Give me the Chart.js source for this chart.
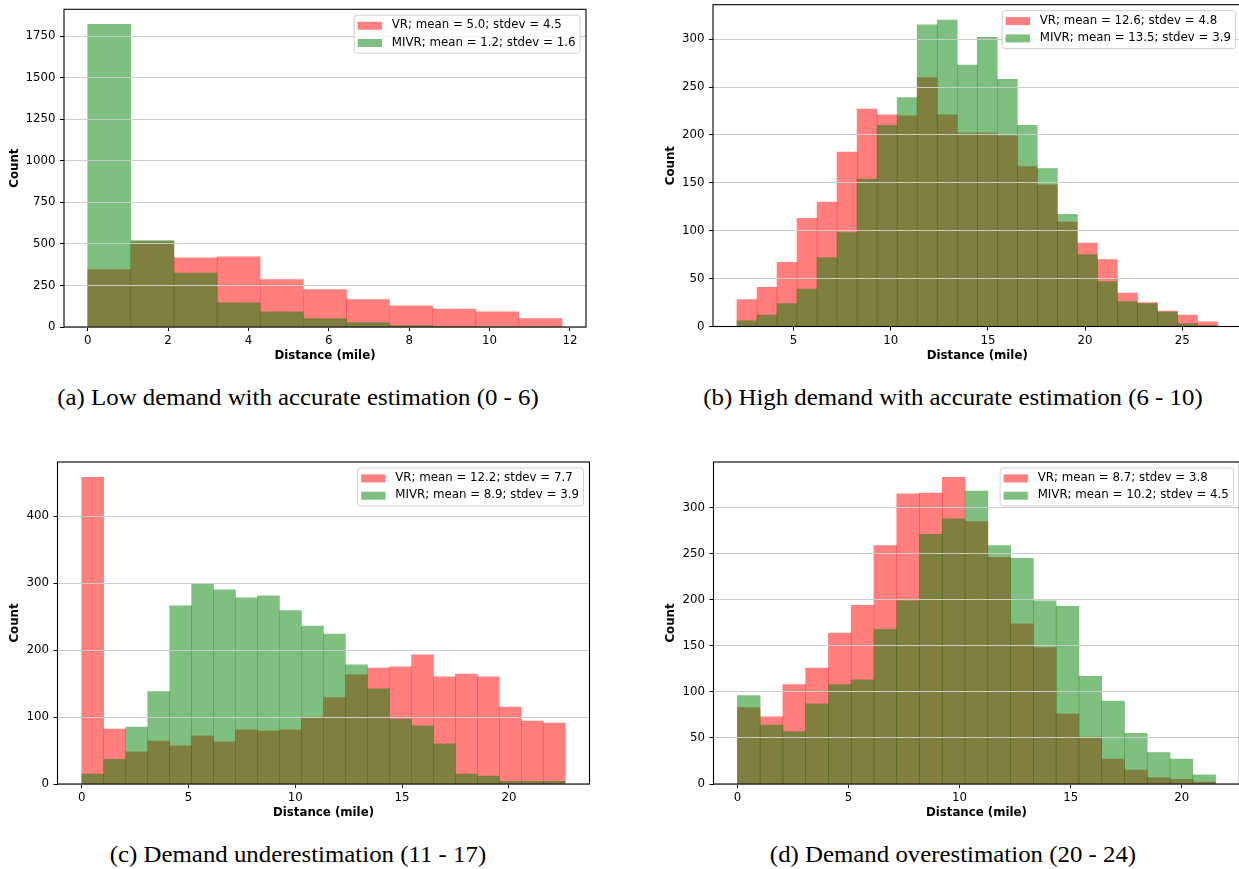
<!DOCTYPE html>
<html>
<head>
<meta charset="utf-8">
<title>Distance histograms</title>
<script src="https://cdn.jsdelivr.net/npm/chart.js@4.4.1/dist/chart.umd.min.js"></script>
<style>
  html, body { margin: 0; padding: 0; background: #fff; }
  body { position: relative; width: 1239px; height: 869px; overflow: hidden; }
  canvas { position: absolute; }
  .caption {
    position: absolute;
    font-family: "Liberation Serif", "Times New Roman", serif;
    font-size: 23px;
    line-height: 23px;
    white-space: nowrap;
    color: #000;
    transform: translateX(-50%) scaleX(1.08);
  }
</style>
</head>
<body>
<canvas id="histA" width="600" height="370" style="left:0;top:0"></canvas>
<canvas id="histB" width="640" height="370" style="left:620px;top:0"></canvas>
<canvas id="histC" width="600" height="370" style="left:0;top:455px"></canvas>
<canvas id="histD" width="640" height="370" style="left:620px;top:455px"></canvas>

<div class="caption" style="left:298px;top:386px">(a) Low demand with accurate estimation (0 - 6)</div>
<div class="caption" style="left:953px;top:386px">(b) High demand with accurate estimation (6 - 10)</div>
<div class="caption" style="left:298px;top:843px">(c) Demand underestimation (11 - 17)</div>
<div class="caption" style="left:953px;top:843px">(d) Demand overestimation (20 - 24)</div>

<script>
// --- Histogram data (bin edges in miles, counts per bin) ---

// (a) low demand, accurate estimation
const binEdgesA = [0, 1.07, 2.15, 3.22, 4.29, 5.37, 6.44, 7.51, 8.59, 9.66, 10.73, 11.81];
const vrCountsA = [345, 512, 417, 423, 285, 225, 165, 128, 108, 92, 50];
const mivrCountsA = [1821, 520, 325, 146, 92, 50, 26, 8, 2, 0, 0];
const labelsA = ['VR; mean = 5.0; stdev = 4.5', 'MIVR; mean = 1.2; stdev = 1.6'];
const xTicksA = [0, 2, 4, 6, 8, 10, 12];
const yTicksA = [0, 250, 500, 750, 1000, 1250, 1500, 1750];

// (b) high demand, accurate estimation
const binEdgesB = [2.09, 3.12, 4.15, 5.18, 6.21, 7.24, 8.27, 9.30, 10.33, 11.36, 12.39, 13.42, 14.45,
                   15.48, 16.51, 17.54, 18.57, 19.60, 20.63, 21.66, 22.69, 23.72, 24.75, 25.78, 26.81];
const vrCountsB = [28, 41, 67, 113, 130, 182, 227, 221, 220, 260, 221, 202, 202, 199, 167, 148, 109, 87, 70, 35, 25, 16, 12, 5];
const mivrCountsB = [6, 12, 24, 39, 72, 98, 154, 210, 239, 315, 320, 273, 302, 258, 210, 165, 117, 75, 47, 26, 24, 15, 3, 1];
const labelsB = ['VR; mean = 12.6; stdev = 4.8', 'MIVR; mean = 13.5; stdev = 3.9'];
const xTicksB = [5, 10, 15, 20, 25];
const yTicksB = [0, 50, 100, 150, 200, 250, 300];

// (c) demand underestimation
const binEdgesC = [0, 1.03, 2.06, 3.09, 4.12, 5.15, 6.17, 7.20, 8.23, 9.26, 10.29, 11.32,
                   12.35, 13.38, 14.41, 15.44, 16.47, 17.50, 18.52, 19.55, 20.58, 21.61, 22.64];
const vrCountsC = [458, 82, 48, 64, 57, 72, 63, 81, 79, 81, 100, 129, 163, 173, 175, 193, 160, 164, 160, 115, 94, 91];
const mivrCountsC = [15, 37, 85, 138, 266, 299, 290, 278, 281, 259, 236, 224, 178, 142, 97, 87, 60, 15, 12, 4, 4, 4];
const labelsC = ['VR; mean = 12.2; stdev = 7.7', 'MIVR; mean = 8.9; stdev = 3.9'];
const xTicksC = [0, 5, 10, 15, 20];
const yTicksC = [0, 100, 200, 300, 400];

// (d) demand overestimation
const binEdgesD = [0, 1.02, 2.05, 3.07, 4.10, 5.12, 6.15, 7.17, 8.20, 9.22, 10.25, 11.27,
                   12.30, 13.32, 14.35, 15.37, 16.40, 17.42, 18.45, 19.47, 20.50, 21.52];
const vrCountsD = [83, 73, 108, 126, 164, 194, 259, 315, 316, 333, 285, 246, 174, 148, 76, 51, 27, 15, 7, 5, 2];
const mivrCountsD = [96, 64, 57, 87, 108, 113, 168, 199, 271, 288, 318, 259, 245, 199, 193, 117, 90, 55, 34, 27, 10];
const labelsD = ['VR; mean = 8.7; stdev = 3.8', 'MIVR; mean = 10.2; stdev = 4.5'];
const xTicksD = [0, 5, 10, 15, 20];
const yTicksD = [0, 50, 100, 150, 200, 250, 300];

// --- Styling ---
const FONT_SIZE = 11.8;
Chart.defaults.font.family = '"DejaVu Sans", sans-serif';
Chart.defaults.font.size = FONT_SIZE;
Chart.defaults.color = '#000';
Chart.defaults.animation = false;

const VR_FILL = 'rgba(255, 0, 0, 0.5)';
const MIVR_FILL = 'rgba(0, 128, 0, 0.5)';

// Black box around the plot area
const framePlugin = {
    id: 'frame',
    afterDraw(chart) {
        const { ctx, chartArea: a } = chart;
        ctx.save();
        ctx.strokeStyle = '#000';
        ctx.lineWidth = 1.1;
        ctx.strokeRect(a.left, a.top, a.right - a.left, a.bottom - a.top);
        ctx.restore();
    }
};

// Legend box in the upper right corner of the plot area
const boxLegend = {
    id: 'boxLegend',
    afterDraw(chart) {
        const { ctx, chartArea: a } = chart;
        const sets = chart.data.datasets;
        ctx.save();
        ctx.font = `${FONT_SIZE}px "DejaVu Sans"`;
        const textW = Math.max(...sets.map(d => ctx.measureText(d.label).width));
        const padL = 3.5, handleW = 24.3, handleH = 8, textGap = 9.8, padR = 4.7;
        const rowStep = 17.3, inset = 5.9, boxH = 38;
        const boxW = padL + handleW + textGap + textW + padR;
        const left = a.right - inset - boxW;
        const top = a.top + inset;

        ctx.beginPath();
        ctx.roundRect(left, top, boxW, boxH, 3);
        ctx.fillStyle = 'rgba(255, 255, 255, 0.8)';
        ctx.fill();
        ctx.strokeStyle = '#d0d0d0';
        ctx.lineWidth = 1;
        ctx.stroke();

        ctx.textBaseline = 'middle';
        ctx.textAlign = 'left';
        sets.forEach((d, i) => {
            const cy = top + 10 + i * rowStep;
            ctx.fillStyle = d.backgroundColor;
            ctx.fillRect(left + padL, cy - handleH / 2 + 0.5, handleW, handleH);
            ctx.fillStyle = '#000';
            ctx.fillText(d.label, left + padL + handleW + textGap, cy);
        });
        ctx.restore();
    }
};

function makeHistogram(canvasId, edges, vrCounts, mivrCounts, labels, xTicks, yTicks, box) {
    const centers = edges.slice(1).map((e, i) => (edges[i] + e) / 2);
    const span = edges[edges.length - 1] - edges[0];
    const yMax = Math.max(...vrCounts, ...mivrCounts) * 1.05;

    const bars = (counts, label, fill, order) => ({
        label,
        data: centers.map((x, i) => ({ x, y: counts[i] })),
        backgroundColor: fill,
        borderWidth: 0,
        grouped: false,
        barPercentage: 1,
        categoryPercentage: 1,
        order
    });

    return new Chart(document.getElementById(canvasId), {
        type: 'bar',
        data: {
            datasets: [
                bars(vrCounts, labels[0], VR_FILL, 2),
                bars(mivrCounts, labels[1], MIVR_FILL, 1)
            ]
        },
        options: {
            responsive: false,
            animation: false,
            layout: { padding: { left: 0, top: box.padTop, right: box.padRight, bottom: 0 } },
            plugins: { legend: { display: false }, tooltip: { enabled: false } },
            scales: {
                x: {
                    type: 'linear',
                    offset: false,
                    min: edges[0] - 0.05 * span,
                    max: edges[edges.length - 1] + 0.05 * span,
                    afterBuildTicks: s => { s.ticks = xTicks.map(v => ({ value: v })); },
                    afterFit: s => {
                        s.height = box.xAxisH;
                        s.paddingLeft = 0;
                        s.paddingRight = 0;
                    },
                    grid: { offset: false, drawOnChartArea: false, drawTicks: true, tickLength: 4, tickColor: '#000' },
                    border: { display: false },
                    ticks: { padding: 3, maxRotation: 0, autoSkip: false, callback: v => String(v) },
                    title: {
                        display: true,
                        text: 'Distance (mile)',
                        font: { weight: 'bold' },
                        padding: { top: 0, bottom: box.xTitlePad }
                    }
                },
                y: {
                    min: 0,
                    max: yMax,
                    afterBuildTicks: s => { s.ticks = yTicks.map(v => ({ value: v })); },
                    afterFit: s => {
                        s.width = box.yAxisW;
                        s.paddingTop = 0;
                        s.paddingBottom = 0;
                    },
                    grid: { z: 1, color: '#cccccc', lineWidth: 1, tickLength: 4, tickColor: '#000' },
                    border: { display: false },
                    ticks: { padding: 4.5, autoSkip: false, callback: v => String(v) },
                    title: {
                        display: true,
                        text: 'Count',
                        font: { weight: 'bold' },
                        padding: { top: box.yTitlePad, bottom: 0 }
                    }
                }
            }
        },
        plugins: [framePlugin, boxLegend]
    });
}

makeHistogram('histA', binEdgesA, vrCountsA, mivrCountsA, labelsA, xTicksA, yTicksA,
    { yAxisW: 64, xAxisH: 43, padTop: 9.3, padRight: 14, yTitlePad: 8.3, xTitlePad: 6.6 });
makeHistogram('histB', binEdgesB, vrCountsB, mivrCountsB, labelsB, xTicksB, yTicksB,
    { yAxisW: 93, xAxisH: 43.5, padTop: 4.7, padRight: 18.5, yTitlePad: 43.5, xTitlePad: 7.1 });
makeHistogram('histC', binEdgesC, vrCountsC, mivrCountsC, labelsC, xTicksC, yTicksC,
    { yAxisW: 57.5, xAxisH: 41, padTop: 7, padRight: 10.5, yTitlePad: 8.3, xTitlePad: 4.6 });
makeHistogram('histD', binEdgesD, vrCountsD, mivrCountsD, labelsD, xTicksD, yTicksD,
    { yAxisW: 93.5, xAxisH: 41, padTop: 7, padRight: 20.6, yTitlePad: 43.5, xTitlePad: 4.6 });
</script>
</body>
</html>
